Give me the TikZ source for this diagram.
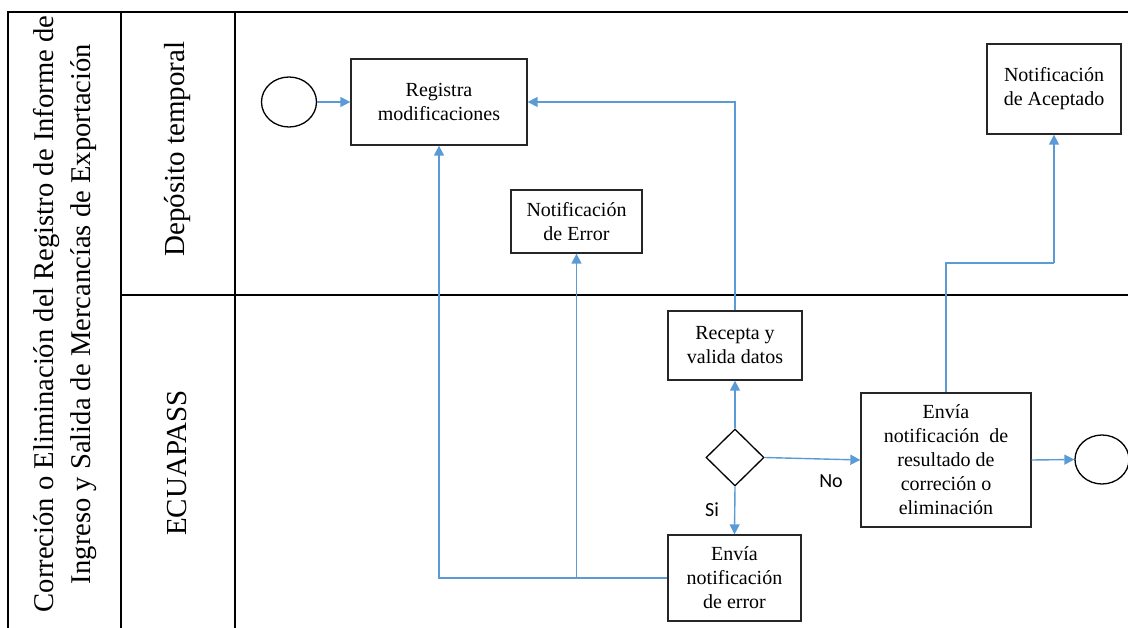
\documentclass[tikz,border=0pt]{standalone}
\usepackage{fontspec}
\setmainfont{Liberation Serif}
\newfontfamily\calib{Carlito}
\usetikzlibrary{arrows.meta,shapes.geometric,calc}
\definecolor{conn}{HTML}{5B9BD5}
\begin{document}
\begin{tikzpicture}[x=1pt,y=-1pt,
  frame/.style={line width=2pt,black},
  box/.style={draw=black!85,line width=1.3pt,rectangle,align=center,inner sep=0pt,
    font=\fontsize{20}{24}\selectfont},
  evt/.style={draw=black,line width=1.3pt,ellipse,inner sep=0pt},
  gate/.style={draw=black,line width=1.3pt,diamond,inner sep=0pt},
  flow/.style={conn,line width=1.4pt,-{Triangle[length=10pt,width=10pt]}},
  line/.style={conn,line width=1.4pt},
  lanelbl/.style={rotate=90,font=\fontsize{29}{35}\selectfont,align=center},
  titlelbl/.style={rotate=90,font=\fontsize{28.6}{37}\selectfont,align=center},
  cond/.style={font=\calib\fontsize{20}{24}\selectfont}]
\useasboundingbox (0,0) rectangle (1128,628);
% frame
\draw[frame] (8,640) -- (8,12) -- (1140,12);
\draw[frame] (121,12) -- (121,640);
\draw[frame] (235,12) -- (235,640);
\draw[frame] (121,295) -- (1140,295);
% lane labels
\node[titlelbl] (title) at (65,314) {Correción o Eliminación del Registro de Informe de\\Ingreso y Salida de Mercancías de Exportación};
\node[lanelbl] (lane1) at (178,149) {Depósito temporal};
\node[lanelbl] (lane2) at (177,463) {ECUAPASS};
% nodes
\node[evt,minimum width=55pt,minimum height=50pt] (start) at (289,102) {};
\node[box,minimum width=176pt,minimum height=86pt] (registra) at (439,102) {Registra\\modificaciones};
\node[box,minimum width=131pt,minimum height=63pt] (noterr) at (576.5,221.5) {Notificación\\de Error};
\node[box,minimum width=134pt,minimum height=90pt] (acept) at (1054,89) {Notificación\\de Aceptado};
\node[box,minimum width=134pt,minimum height=69pt] (recepta) at (735,345.5) {Recepta y\\valida datos};
\node[gate,minimum width=58pt,minimum height=57pt] (gw) at (735,457.5) {};
\node[box,minimum width=133pt,minimum height=86pt] (enverr) at (734.5,578) {Envía\\notificación\\de error};
\node[box,minimum width=170pt,minimum height=134pt] (result) at (946,460) {Envía\\notificación\enspace de\\resultado de\\correción o\\eliminación};
\node[evt,minimum width=54pt,minimum height=49pt] (end) at (1102,459.5) {};
\coordinate (bend) at (1054,263);
% connectors
\draw[flow] (start) -- (registra);
\draw[flow] (recepta.north) |- (registra.east);
\draw[flow] (enverr.west) -| (registra.south);
\draw[flow] (noterr.south |- enverr.west) -- (noterr.south);
\draw[flow] (gw.north) -- (recepta.south);
\draw[flow] (gw.south) -- (enverr.north);
\draw[flow] (gw.east) -- (result.west);
\draw[flow] (result.east) -- (end.west);
\draw[line] (result.north) |- (bend);
\draw[flow] (bend) -- (acept.south);
\node[cond] (si) at (712,510) {Si};
\node[cond] (no) at (831,481) {No};
\end{tikzpicture}
\end{document}
